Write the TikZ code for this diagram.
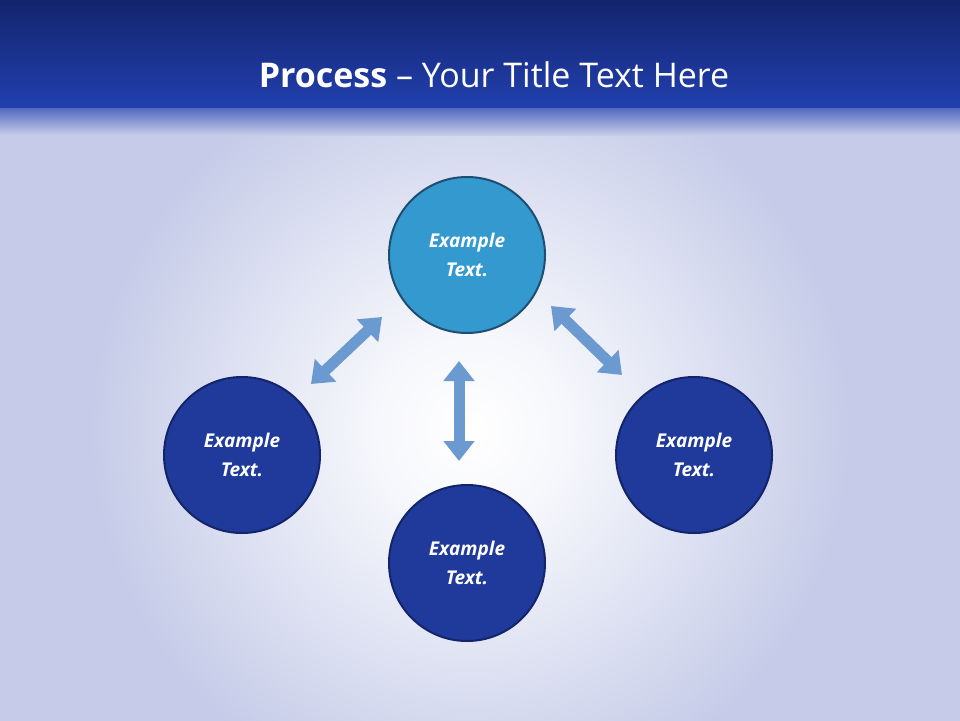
\documentclass[tikz,border=0pt]{standalone}
\usepackage{fontspec}
\setmainfont{Open Sans}
\usetikzlibrary{arrows.meta}
\definecolor{bgc}{HTML}{C5CBE8}
\definecolor{hdtop}{HTML}{14246E}
\definecolor{hdbot}{HTML}{2140AE}
\definecolor{topc}{HTML}{3399CF}
\definecolor{topb}{HTML}{1E4E72}
\definecolor{botc}{HTML}{1F3A9A}
\definecolor{botb}{HTML}{13246A}
\definecolor{arr}{HTML}{6B9AD0}
\pgfdeclareradialshading{glow}{\pgfpoint{0bp}{0bp}}{color(0bp)=(white); color(4bp)=(white!85!bgc); color(16bp)=(bgc); color(50bp)=(bgc)}
\tikzset{
  circ/.style={circle,minimum size=156pt,line width=2pt,text=white,
    font=\bfseries\itshape\fontsize{19}{29}\selectfont,align=center,inner sep=0pt},
  dbl/.style={draw=arr,line width=11pt,{Triangle[width=30pt,length=20pt]}-{Triangle[width=30pt,length=20pt]}}
}
\begin{document}
\begin{tikzpicture}[x=1pt,y=-1pt]
\useasboundingbox (0,0) rectangle (960,720);
\begin{scope}
\clip (0,0) rectangle (960,720);
\fill[bgc] (0,0) rectangle (960,720);
\shade[shading=glow] (470,430) circle (600);
\end{scope}
\shade[top color=hdtop,bottom color=hdbot] (0,0) rectangle (960,108);
\shade[top color=hdbot!70!bgc,bottom color=bgc] (0,108) rectangle (960,135);
\node[text=white,font=\fontsize{34}{40}\selectfont] (title) at (494,75) {\textbf{Process} -- Your Title Text Here};
\node[circ,fill=topc,draw=topb] (t) at (467,255) {Example\\Text.};
\node[circ,fill=botc,draw=botb] (l) at (242,455) {Example\\Text.};
\node[circ,fill=botc,draw=botb] (r) at (694,455) {Example\\Text.};
\node[circ,fill=botc,draw=botb] (b) at (467,563) {Example\\Text.};
\coordinate (a1) at (311,384); \coordinate (a2) at (382,317);
\coordinate (b1) at (459,361); \coordinate (b2) at (459,461);
\coordinate (c1) at (551,306); \coordinate (c2) at (622,375);
\draw[dbl] (a1) -- (a2);
\draw[dbl] (b1) -- (b2);
\draw[dbl] (c1) -- (c2);
\end{tikzpicture}
\end{document}
